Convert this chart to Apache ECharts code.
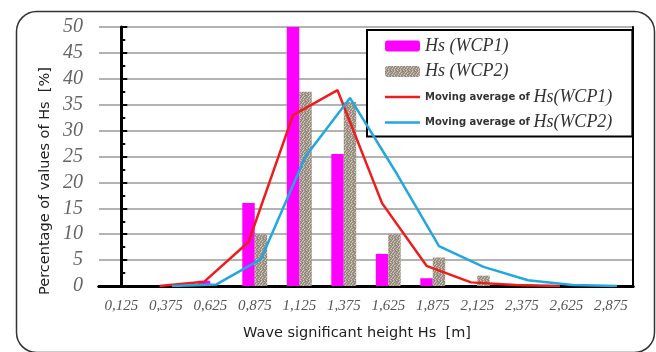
<!DOCTYPE html>
<html><head><meta charset="utf-8">
<script src="https://cdn.jsdelivr.net/npm/echarts@6/dist/echarts.min.js"></script>
<style>html,body{margin:0;padding:0;background:#fff}#c{width:656px;height:352px}</style>
</head><body><div id="c"></div>
<script>
var categories = ['0,125','0,375','0,625','0,875','1,125','1,375','1,625','1,875','2,125','2,375','2,625','2,875'];
var wcp1 = [0, 0, 1, 16, 50, 25.5, 6.2, 1.5, 0, 0, 0, 0];
var wcp2 = [0, 0, 0, 10, 37.5, 35.5, 10, 5.5, 2, 0, 0, 0];
var ma1 = [null, 0, 0.8, 8.5, 33, 37.8, 16, 3.9, 0.7, 0.2, 0, null];
var ma2 = [null, 0, 0.3, 5.2, 25, 36.3, 22.4, 7.7, 3.7, 1.1, 0.2, 0];
var yTicks = {min: 0, max: 50, step: 5};
var names = ['Hs (WCP1)', 'Hs (WCP2)', 'Moving average of Hs(WCP1)', 'Moving average of Hs(WCP2)'];

// texture for WCP2 bars (fixed pixel map)
var tex = document.createElement('canvas');
tex.width = 6; tex.height = 6;
var tctx = tex.getContext('2d');
var pmap = ['abcaba','baabca','acbaab','abacba','cabaab','babcab'];
var pcol = {a:'#aca195', b:'#8e8377', c:'#d2c9bf'};
for (var yy = 0; yy < 6; yy++) for (var xx = 0; xx < 6; xx++) {
  tctx.fillStyle = pcol[pmap[yy][xx]]; tctx.fillRect(xx, yy, 1, 1);
}
var texColor = {image: tex, repeat: 'repeat'};

var barFrac = 0.28; // bar width as fraction of a category
function lineData(arr, side) {
  var out = [];
  arr.forEach(function (v, i) { if (v !== null) out.push([i + side * barFrac / 2, v]); });
  return out;
}
var lineIcon = 'path://M0,0 L35,0 L35,2.6 L0,2.6 Z';
var redC = '#ee1d1d', blueC = '#22a7df';

var chart = echarts.init(document.getElementById('c'));
chart.setOption({
  animation: false,
  backgroundColor: '#fff',
  grid: {left: 99, right: 23, top: 27, bottom: 66, containLabel: false},
  legend: {
    orient: 'vertical', left: 367, top: 30,
    padding: [7, 20, 5, 18],
    backgroundColor: '#fff', borderColor: '#000', borderWidth: 2,
    itemWidth: 35, itemHeight: 11, itemGap: 7.5,
    data: [
      {name: names[0]},
      {name: names[1]},
      {name: names[2], icon: lineIcon, itemStyle: {color: redC}},
      {name: names[3], icon: lineIcon, itemStyle: {color: blueC}}
    ],
    formatter: function (n) {
      if (n.indexOf('Moving') === 0) {
        return '{b|Moving average of }{it|' + n.replace('Moving average of ', '') + '}';
      }
      return '{it|' + n + '}';
    },
    textStyle: {
      rich: {
        it: {fontFamily: 'Liberation Serif', fontStyle: 'italic', fontSize: 18, color: '#333', lineHeight: 16},
        b: {fontFamily: 'DejaVu Sans', fontWeight: 'bold', fontSize: 10, color: '#333', lineHeight: 16}
      }
    }
  },
  xAxis: [
    {
      type: 'category', data: categories, position: 'bottom',
      axisLine: {lineStyle: {color: '#000', width: 3}},
      axisTick: {inside: true, length: 6, lineStyle: {color: '#000', width: 2}},
      axisLabel: {color: '#555', fontSize: 15, margin: 13, fontFamily: 'Liberation Serif', fontStyle: 'italic'},
      splitLine: {show: false}
    },
    {
      type: 'category', data: categories, position: 'top',
      axisLine: {lineStyle: {color: '#000', width: 3}},
      axisTick: {show: false}, axisLabel: {show: false}, splitLine: {show: false}
    },
    {
      type: 'value', min: -0.5, max: categories.length - 0.5, show: false
    }
  ],
  yAxis: [
    {
      type: 'value', min: yTicks.min, max: yTicks.max, interval: yTicks.step,
      axisLine: {show: true, lineStyle: {color: '#000', width: 3}},
      axisTick: {show: true, inside: true, length: 6, lineStyle: {color: '#000', width: 2}},
      minorTick: {show: true, splitNumber: 2, length: 4, lineStyle: {color: '#000', width: 2}},
      axisLabel: {color: '#666', fontSize: 20, margin: 16, fontFamily: 'Liberation Serif', fontStyle: 'italic'},
      splitLine: {show: true, lineStyle: {color: '#9a9a9a', width: 1.5}}
    },
    {
      type: 'value', min: yTicks.min, max: yTicks.max, interval: yTicks.step, position: 'right',
      axisLine: {show: true, lineStyle: {color: '#000', width: 2}},
      axisTick: {show: false}, axisLabel: {show: false}, splitLine: {show: false}
    }
  ],
  series: [
    {name: names[0], type: 'bar', data: wcp1, xAxisIndex: 0, yAxisIndex: 0,
     barGap: '0%', barCategoryGap: '44%', itemStyle: {color: '#ff00ff'}},
    {name: names[1], type: 'bar', data: wcp2, xAxisIndex: 0, yAxisIndex: 0,
     barGap: '0%', barCategoryGap: '44%', itemStyle: {color: texColor}},
    {name: names[2], type: 'line', data: lineData(ma1, -1), xAxisIndex: 2, yAxisIndex: 0,
     symbol: 'none', lineStyle: {color: redC, width: 2.5}, itemStyle: {color: redC}, z: 5},
    {name: names[3], type: 'line', data: lineData(ma2, 1), xAxisIndex: 2, yAxisIndex: 0,
     symbol: 'none', lineStyle: {color: blueC, width: 2.5}, itemStyle: {color: blueC}, z: 5}
  ],
  graphic: [
    {type: 'rect', left: 14, top: 9, shape: {width: 638, height: 341, r: 20},
     style: {fill: 'none', stroke: '#333', lineWidth: 1.5}, silent: true, z: 100},
    {type: 'text', x: 45, y: 181, rotation: Math.PI / 2,
     style: {text: 'Percentage of values of Hs  [%]', fontFamily: 'DejaVu Sans', fontSize: 14.5, fill: '#222',
             align: 'center', verticalAlign: 'middle'}},
    {type: 'text', x: 357, y: 333,
     style: {text: 'Wave significant height Hs  [m]', fontFamily: 'DejaVu Sans', fontSize: 14.5, fill: '#222',
             align: 'center', verticalAlign: 'middle'}}
  ]
});
</script></body></html>
